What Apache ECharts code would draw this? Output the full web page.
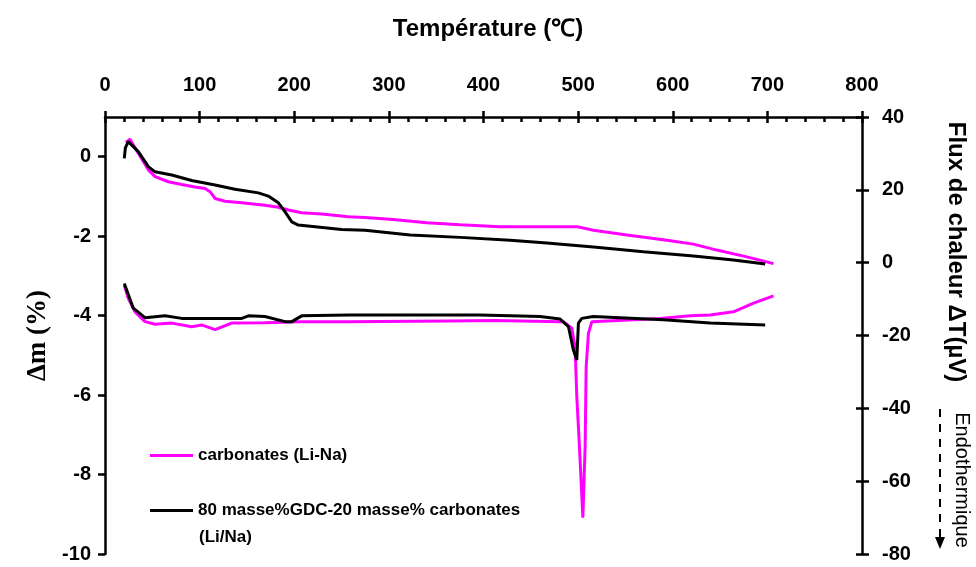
<!DOCTYPE html>
<html>
<head>
<meta charset="utf-8">
<title>ATG / ATD carbonates</title>
<script src="https://cdn.jsdelivr.net/npm/echarts@6.0.0/dist/echarts.min.js"></script>
<style>
  html, body { margin: 0; padding: 0; background: #fff; }
  #chart { width: 976px; height: 567px; }
</style>
</head>
<body>
<div id="chart"></div>
<script>
// ---------------------------------------------------
// Data
// ---------------------------------------------------
const tempTicks = [0, 100, 200, 300, 400, 500, 600, 700, 800];
const massTicks = [-10, -8, -6, -4, -2, 0];

// carbonates (Li-Na) : perte de masse (%)
const tgCarbTemp = [22, 26.4, 35.2, 45.8, 52.9, 66.9, 81.1, 95.1, 105.7, 111, 116.3, 126.8, 144.5, 169.1, 183.2, 193.8, 207.9, 229.1, 257.2, 274.8, 304.8, 340, 375.3, 417.5, 498.6, 516.2, 551.5, 593.8, 621.9, 646.6, 678.3, 706.5];
const tgCarbMass = [0.36, 0.44, 0.09, -0.33, -0.50, -0.63, -0.70, -0.76, -0.80, -0.88, -1.05, -1.12, -1.16, -1.22, -1.27, -1.34, -1.41, -1.44, -1.51, -1.53, -1.58, -1.66, -1.71, -1.76, -1.76, -1.85, -1.97, -2.10, -2.20, -2.35, -2.52, -2.69];

// 80 masse% GDC - 20 masse% carbonates : perte de masse (%)
const tgCompTemp = [20.4, 21.5, 24.6, 35.2, 45.8, 52.9, 70.5, 91.6, 116.3, 137.4, 162.1, 172.6, 183.2, 190.3, 197.4, 204.3, 222, 250.2, 274.8, 322.4, 375.3, 428.1, 466.9, 516.2, 569, 621.9, 664, 697.7];
const tgCompMass = [-0.04, 0.22, 0.38, 0.13, -0.25, -0.38, -0.46, -0.60, -0.71, -0.82, -0.91, -0.99, -1.16, -1.39, -1.64, -1.72, -1.76, -1.83, -1.85, -1.97, -2.03, -2.10, -2.17, -2.27, -2.39, -2.50, -2.60, -2.70];

// carbonates (Li-Na) : flux de chaleur (µV)
const dtaCarbTemp = [20.4, 24.6, 31.7, 42.3, 52.9, 70.5, 91.6, 102.1, 116.3, 133.9, 169, 204.3, 257, 363, 412, 481, 484.5, 493.3, 496.8, 498.6, 501.4, 505, 507.4, 508.5, 510.9, 514.5, 586.7, 618.4, 639.5, 664.2, 685.4, 706.5];
const dtaCarbFlux = [-6.2, -9.8, -13.5, -16.2, -16.9, -16.6, -17.6, -17.1, -18.4, -16.6, -16.5, -16.2, -16.2, -16.0, -15.9, -16.2, -16.2, -18.0, -23.1, -36.8, -50.5, -70.0, -50.5, -28.6, -19.4, -16.2, -15.3, -14.6, -14.4, -13.5, -11.1, -9.1];

// 80 masse% GDC - 20 masse% carbonates : flux de chaleur (µV)
const dtaCompTemp = [20.4, 29.9, 42.3, 63.4, 81.1, 116.3, 144.5, 151.5, 169, 190.3, 197.4, 207.9, 257.2, 396, 459.8, 481, 489.8, 495, 498.6, 500.3, 503.9, 516, 590, 639.5, 697.7];
const dtaCompFlux = [-5.7, -12.5, -15.1, -14.6, -15.3, -15.3, -15.3, -14.6, -14.8, -16.2, -16.2, -14.6, -14.4, -14.4, -14.8, -15.5, -17.6, -24.0, -26.7, -16.6, -15.3, -14.8, -15.7, -16.6, -17.1];

const nameCarb = "carbonates (Li-Na)";
const nameComp = "80 masse%GDC-20 masse% carbonates";

// ---------------------------------------------------
// Helpers
// ---------------------------------------------------
const FONT = "Liberation Sans, Arial, sans-serif";
const zip = (xs, ys) => xs.map((x, i) => [x, ys[i]]);

function lineSeries(name, color, yIndex, data) {
  return {
    name: name,
    type: "line",
    xAxisIndex: 0,
    yAxisIndex: yIndex,
    data: data,
    symbol: "none",
    smooth: false,
    lineStyle: { color: color, width: 3 },
    itemStyle: { color: color }
  };
}

const labelStyle = { color: "#000", fontFamily: FONT, fontWeight: "bold", fontSize: 20 };
const blackLine = { show: true, onZero: false, lineStyle: { color: "#000", width: 2.5 } };
const tickStyle = { color: "#000", width: 2.5 };

// ---------------------------------------------------
// Chart
// ---------------------------------------------------
const chart = echarts.init(document.getElementById("chart"));

chart.setOption({
  animation: false,
  backgroundColor: "#fff",
  title: {
    text: "Température (℃)",
    left: "center",
    top: 12,
    textStyle: { fontFamily: FONT, fontWeight: "bold", fontSize: 24, color: "#000" }
  },
  grid: { left: 105, right: 114, top: 117, bottom: 13, containLabel: false },
  legend: {
    orient: "vertical",
    left: 150,
    top: 447,
    padding: 0,
    icon: "rect",
    itemWidth: 43,
    itemHeight: 3,
    itemGap: 38,
    data: [nameCarb, nameComp],
    textStyle: { fontFamily: FONT, fontWeight: "bold", fontSize: 17, color: "#000" }
  },
  xAxis: [
    {
      type: "value",
      position: "top",
      min: 0,
      max: 800,
      interval: 100,
      axisLine: blackLine,
      axisTick: { show: true, length: 6, lineStyle: tickStyle },
      axisLabel: Object.assign({ margin: 22 }, labelStyle),
      splitLine: { show: false }
    },
    {
      // inner ticks + minor ticks of the top axis
      type: "value",
      position: "top",
      min: 0,
      max: 800,
      interval: 100,
      axisLine: { show: false, onZero: false },
      axisTick: { show: true, inside: true, length: 6, lineStyle: tickStyle },
      minorTick: { show: true, splitNumber: 5, length: 5, lineStyle: tickStyle },
      axisLabel: { show: false },
      splitLine: { show: false }
    }
  ],
  yAxis: [
    {
      type: "value",
      position: "left",
      min: -10,
      max: 1,
      interval: 2,
      name: "Δm (%)",
      nameLocation: "middle",
      nameGap: 52,
      nameTextStyle: { fontFamily: "Liberation Serif, Times New Roman, serif", fontWeight: "bold", fontSize: 27, color: "#000" },
      axisLine: blackLine,
      axisTick: { show: true, length: 7, customValues: massTicks, lineStyle: tickStyle },
      axisLabel: Object.assign({ margin: 14, customValues: massTicks }, labelStyle),
      splitLine: { show: false }
    },
    {
      type: "value",
      position: "right",
      min: -80,
      max: 40,
      interval: 20,
      axisLine: blackLine,
      axisTick: { show: true, length: 7, lineStyle: tickStyle },
      axisLabel: Object.assign({ margin: 20 }, labelStyle),
      splitLine: { show: false }
    },
    {
      // inner ticks of the right axis
      type: "value",
      position: "right",
      min: -80,
      max: 40,
      interval: 20,
      axisLine: { show: false, onZero: false },
      axisTick: { show: true, inside: true, length: 6, lineStyle: tickStyle },
      axisLabel: { show: false },
      splitLine: { show: false }
    }
  ],
  graphic: [
    {
      type: "text",
      left: 199,
      top: 529,
      style: { text: "(Li/Na)", font: "bold 17px " + FONT, fill: "#000" }
    },
    {
      type: "text",
      x: 956,
      y: 252,
      rotation: -Math.PI / 2,
      style: {
        text: "Flux de chaleur ΔT(µV)",
        font: "bold 24px " + FONT,
        fill: "#000",
        align: "center",
        verticalAlign: "middle"
      }
    },
    {
      type: "text",
      x: 962,
      y: 480,
      rotation: -Math.PI / 2,
      style: {
        text: "Endothermique",
        font: "20px " + FONT,
        fill: "#000",
        align: "center",
        verticalAlign: "middle"
      }
    },
    {
      type: "line",
      shape: { x1: 940, y1: 409, x2: 940, y2: 538 },
      style: { stroke: "#000", lineWidth: 2, lineDash: [8, 7] }
    },
    {
      type: "polygon",
      shape: { points: [[935, 537], [945, 537], [940, 549]] },
      style: { fill: "#000" }
    }
  ],
  series: [
    lineSeries(nameCarb, "#ff00ff", 0, zip(tgCarbTemp, tgCarbMass)),
    lineSeries(nameCarb, "#ff00ff", 1, zip(dtaCarbTemp, dtaCarbFlux)),
    lineSeries(nameComp, "#000000", 0, zip(tgCompTemp, tgCompMass)),
    lineSeries(nameComp, "#000000", 1, zip(dtaCompTemp, dtaCompFlux))
  ]
});

window.addEventListener("resize", chart.resize);
</script>
</body>
</html>
